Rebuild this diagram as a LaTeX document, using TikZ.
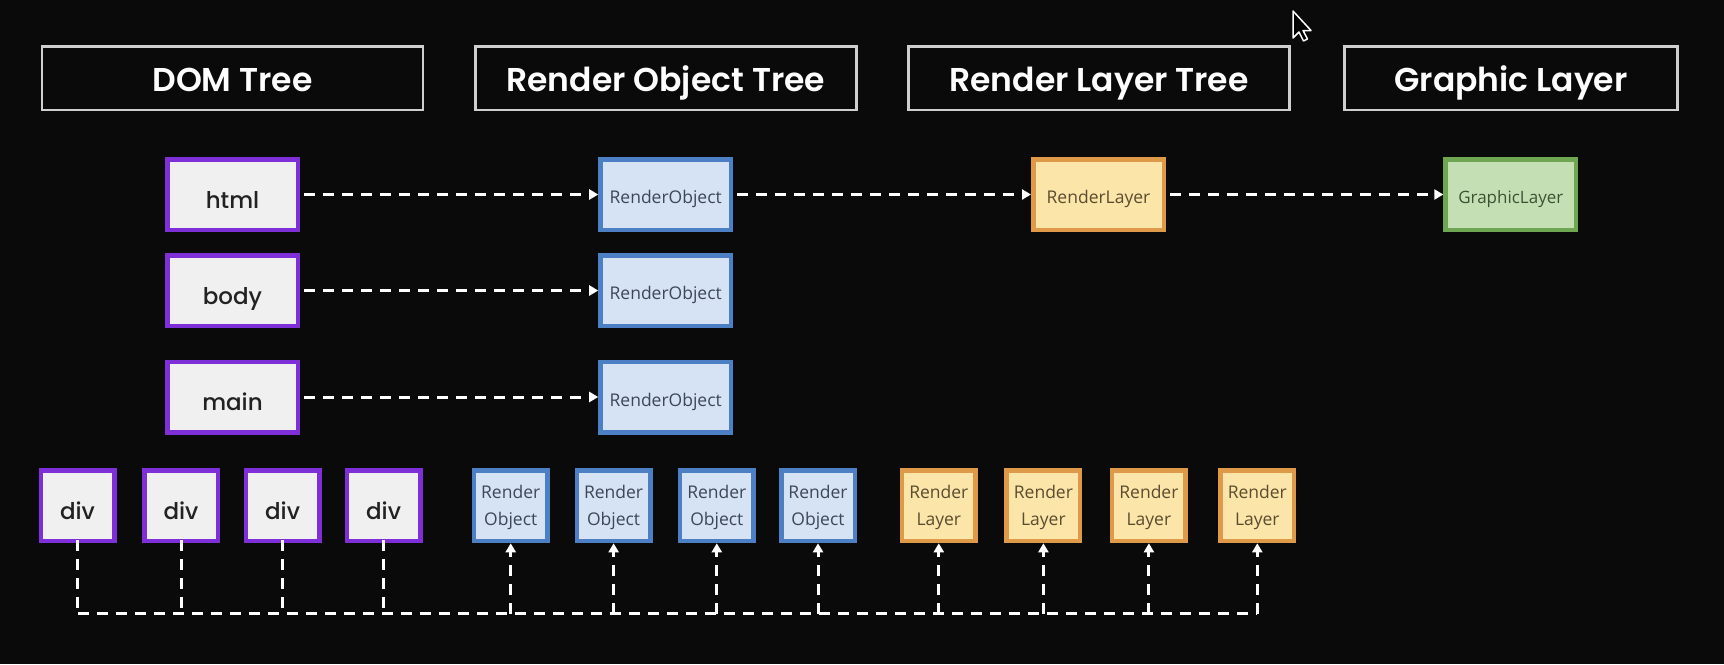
\documentclass[tikz,border=0pt]{standalone}
\usepackage{fontspec}
\setmainfont{Open Sans}
\newfontfamily\pop{Poppins}
\IfFontExistsTF{Poppins SemiBold}{\newfontfamily\pophead{Poppins SemiBold}}{\newcommand\pophead{\pop\bfseries}}
\IfFontExistsTF{Poppins Medium}{\newfontfamily\popmed{Poppins Medium}}{\newcommand\popmed{\pop}}
\usetikzlibrary{arrows.meta}
\definecolor{bg}{HTML}{0A0A0A}
\definecolor{hdrgray}{HTML}{CFCFCF}
\definecolor{purp}{HTML}{7E2FD8}
\definecolor{domfill}{HTML}{F0F0F0}
\definecolor{domtext}{HTML}{222222}
\definecolor{roborder}{HTML}{4D7FC4}
\definecolor{rofill}{HTML}{D5E3F5}
\definecolor{rotext}{HTML}{3C4856}
\definecolor{rlborder}{HTML}{DE9A48}
\definecolor{rlfill}{HTML}{FBE5A8}
\definecolor{rltext}{HTML}{5A4C30}
\definecolor{glborder}{HTML}{6FA652}
\definecolor{glfill}{HTML}{C5DFB5}
\definecolor{gltext}{HTML}{3E5233}
\newcommand\twoln[2]{\raisebox{0pt}[0pt][14pt]{\begin{tabular}[t]{@{}c@{}}#1\\#2\end{tabular}}}
\begin{document}
\begin{tikzpicture}[x=1pt,y=-1pt,
  hdr/.style={draw=hdrgray, line width=2.5pt, minimum width=381pt, minimum height=63.5pt, inner sep=0pt, text=white, text height=26pt, text depth=0pt, font=\pophead\fontsize{33}{40}\selectfont},
  box/.style={line width=4.5pt, inner sep=0pt, minimum width=130.5pt, minimum height=70.5pt, align=center},
  small/.style={minimum width=73.5pt},
  dombox/.style={box, draw=purp, fill=domfill, text=domtext, text height=27pt, text depth=0pt, font=\popmed\fontsize{23}{28}\selectfont},
  robox/.style={box, draw=roborder, fill=rofill, text=rotext, text height=18pt, text depth=0pt, font=\fontsize{17.5}{27}\selectfont},
  rlbox/.style={box, draw=rlborder, fill=rlfill, text=rltext, text height=18pt, text depth=0pt, font=\fontsize{17.5}{27}\selectfont},
  glbox/.style={box, draw=glborder, fill=glfill, text=gltext, text height=18pt, text depth=0pt, font=\fontsize{17}{27}\selectfont},
  two/.style={text height=, text depth=},
  conn/.style={draw=white, line width=3pt, dash pattern=on 11pt off 8pt},
  arr/.style={conn, -{Triangle[length=9pt,width=10pt]}},
]
\useasboundingbox (0,0) rectangle (1724,664);
\fill[bg] (0,0) rectangle (1724,664);

% headers
\node[hdr] (h1) at (232.5,78) {DOM Tree};
\node[hdr] (h2) at (665.8,78) {Render Object Tree};
\node[hdr] (h3) at (1099,78) {Render Layer Tree};
\node[hdr, minimum width=333pt] (h4) at (1511,78) {Graphic Layer};

% middle rows
\node[dombox] (html) at (232.5,194.5) {html};
\node[dombox] (body) at (232.5,290.5) {body};
\node[dombox] (main) at (232.5,397) {main};
\node[robox] (ro1) at (665.7,194.5) {RenderObject};
\node[robox] (ro2) at (665.7,290.5) {RenderObject};
\node[robox] (ro3) at (665.7,397) {RenderObject};
\node[rlbox] (rl) at (1098.5,194.5) {RenderLayer};
\node[glbox] (gl) at (1510.8,194.5) {GraphicLayer};

\draw[arr] ([xshift=4pt]html.east) -- (ro1.west);
\draw[arr] ([xshift=4pt]body.east) -- (ro2.west);
\draw[arr] ([xshift=4pt]main.east) -- (ro3.west);
\draw[arr] ([xshift=4pt]ro1.east) -- (rl.west);
\draw[arr] ([xshift=4pt]rl.east) -- (gl.west);

% bottom row
\node[dombox, small] (d1) at (77.5,505.8) {div};
\node[dombox, small] (d2) at (181,505.8) {div};
\node[dombox, small] (d3) at (282.6,505.8) {div};
\node[dombox, small] (d4) at (383.6,505.8) {div};
\node[robox, small, two] (o1) at (510.7,505.8) {\twoln{Render}{Object}};
\node[robox, small, two] (o2) at (613.6,505.8) {\twoln{Render}{Object}};
\node[robox, small, two] (o3) at (716.8,505.8) {\twoln{Render}{Object}};
\node[robox, small, two] (o4) at (818,505.8) {\twoln{Render}{Object}};
\node[rlbox, small, two] (l1) at (938.8,505.8) {\twoln{Render}{Layer}};
\node[rlbox, small, two] (l2) at (1043.4,505.8) {\twoln{Render}{Layer}};
\node[rlbox, small, two] (l3) at (1148.9,505.8) {\twoln{Render}{Layer}};
\node[rlbox, small, two] (l4) at (1257.3,505.8) {\twoln{Render}{Layer}};

\coordinate (bus) at (0,613.5);
\draw[conn] (d1.south |- bus) -- (l4.south |- bus);
\foreach \n in {d1,d2,d3,d4} {
  \draw[conn] ([yshift=3pt]\n.south) -- (\n.south |- bus);
}
\foreach \n in {o1,o2,o3,o4,l1,l2,l3,l4} {
  \draw[arr] (\n.south |- bus) -- (\n.south);
}

% mouse cursor
\draw[white, fill=black, line width=1.5pt, line join=round]
  (1293,11) -- (1293,38) -- (1299,32) -- (1303.5,41) -- (1307.5,39) -- (1303,30.5) -- (1311,30.5) -- cycle;
\end{tikzpicture}
\end{document}
